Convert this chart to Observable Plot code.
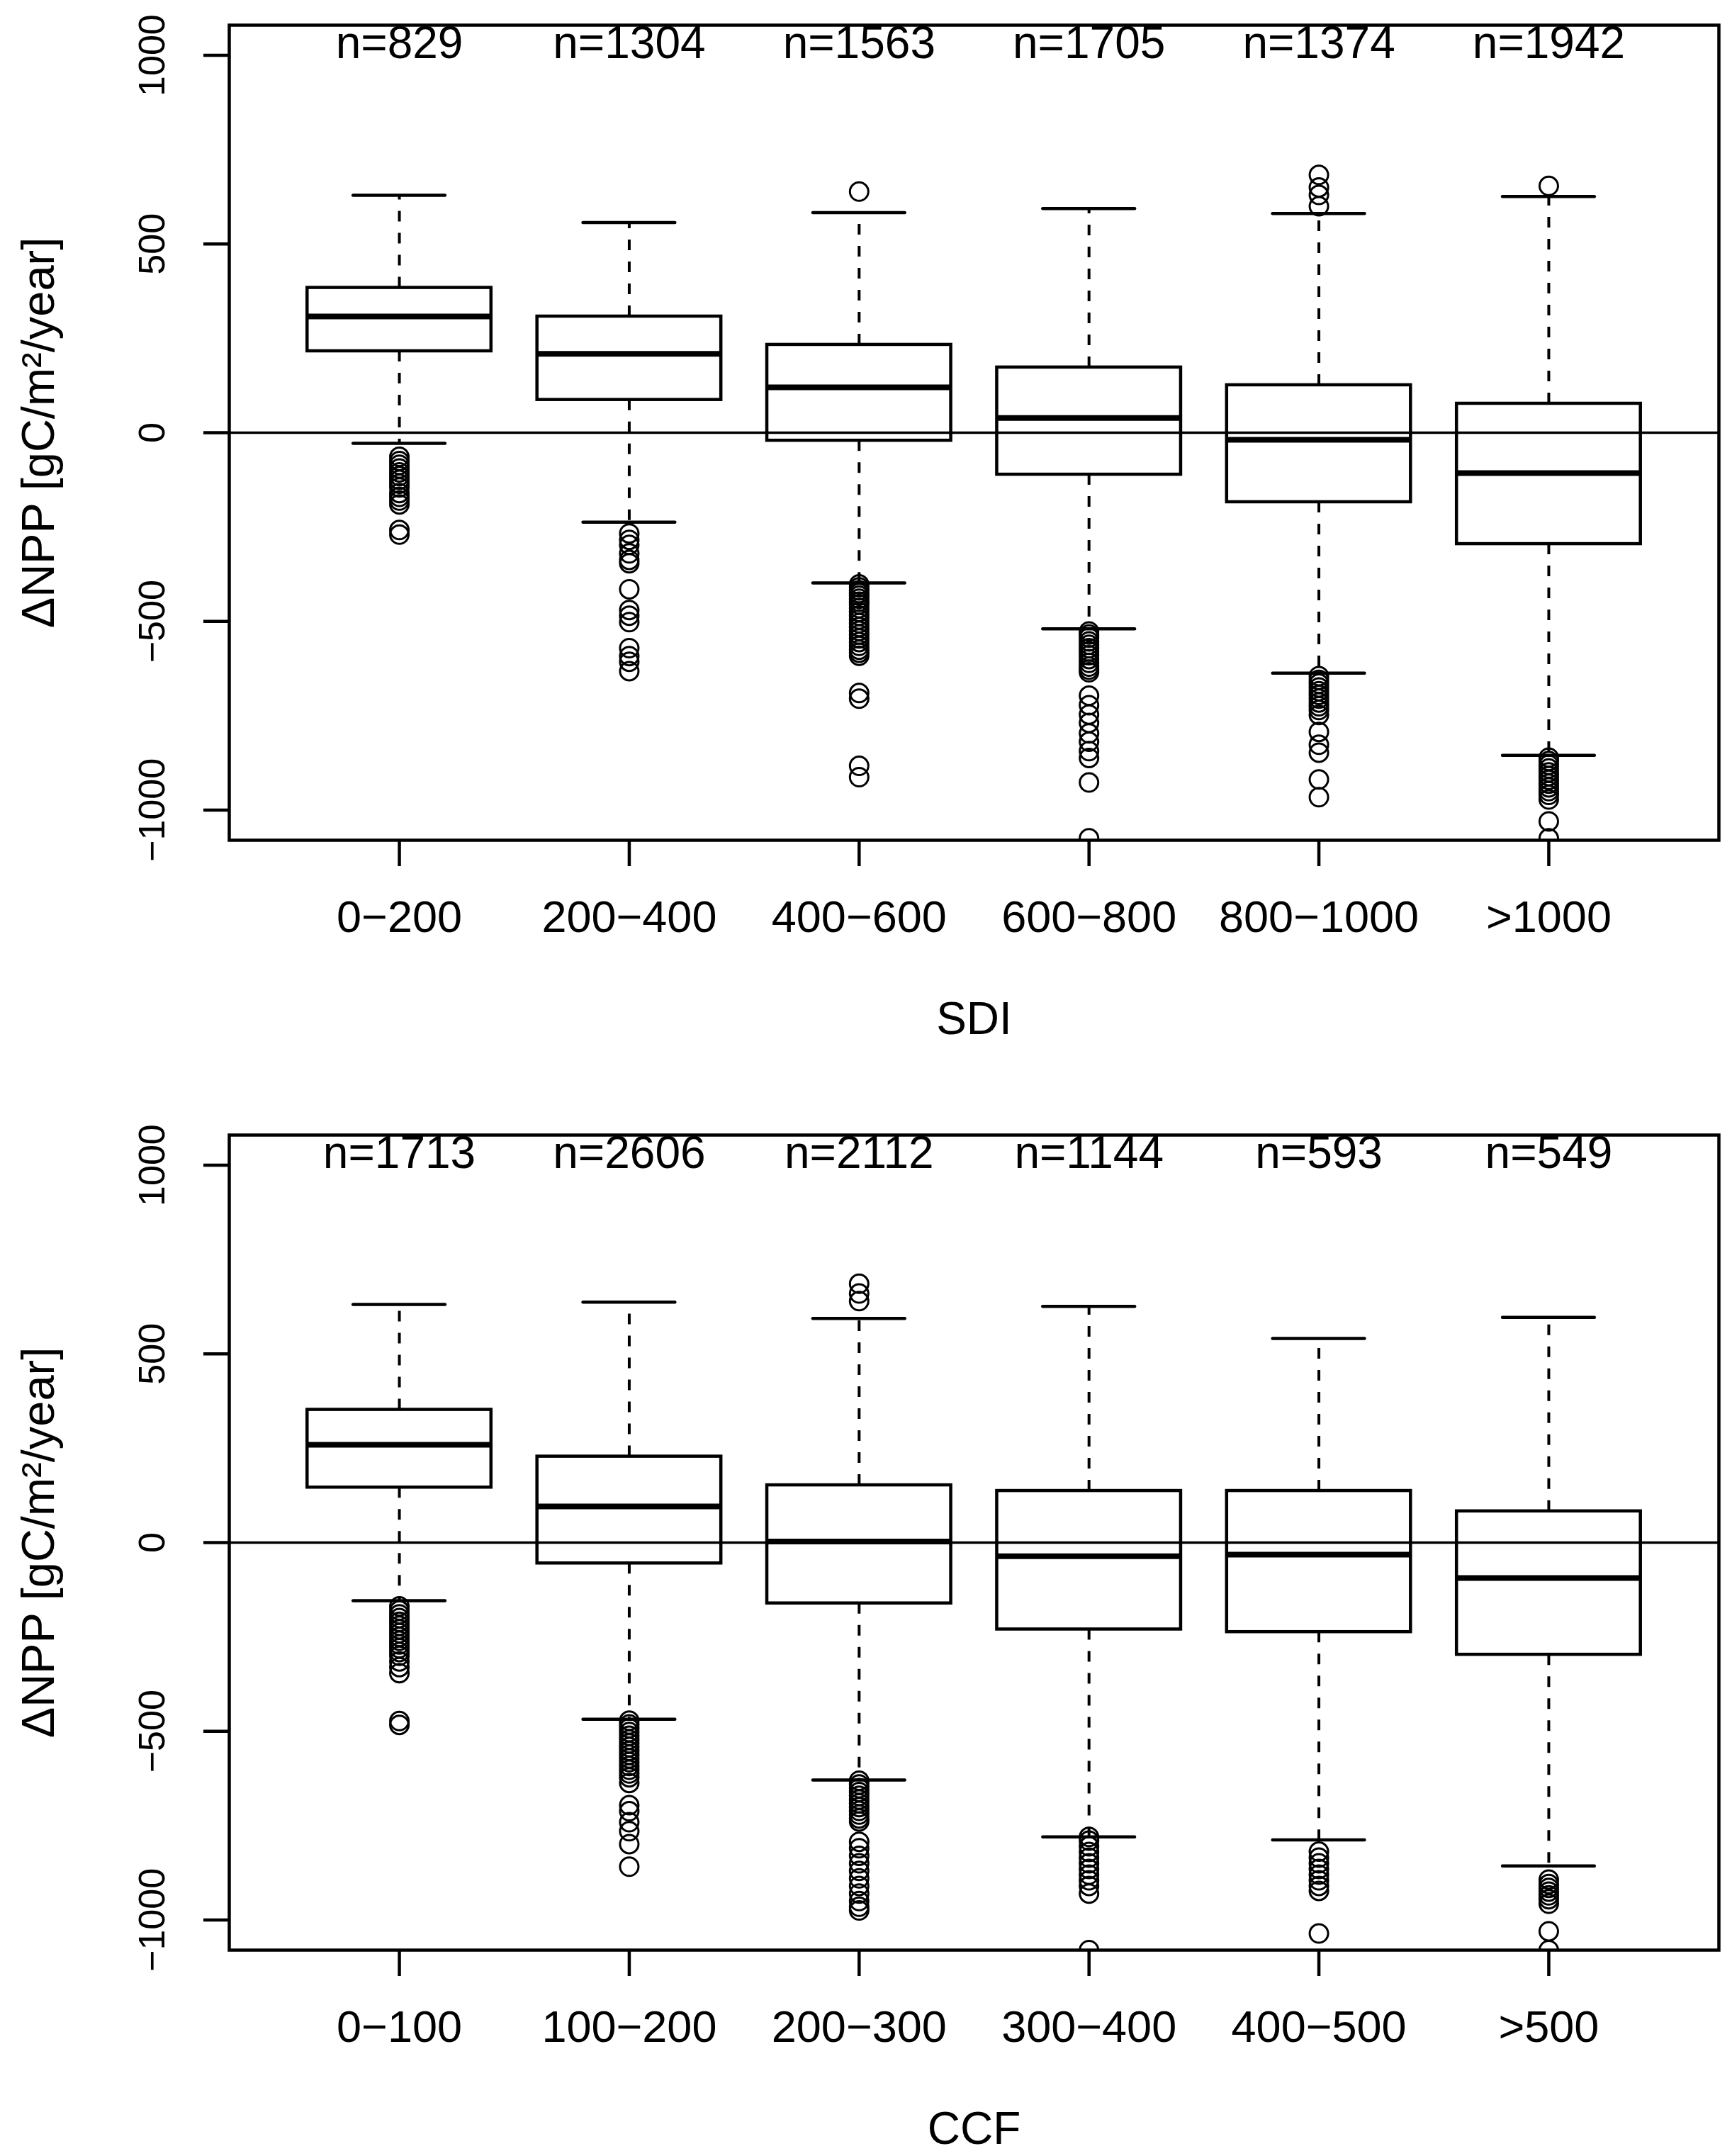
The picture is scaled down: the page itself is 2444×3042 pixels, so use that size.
<!DOCTYPE html>
<html>
<head>
<meta charset="utf-8">
<script src="https://cdn.jsdelivr.net/npm/d3@7"></script>
<script src="https://cdn.jsdelivr.net/npm/@observablehq/plot@0.6"></script>
<style>
  html, body { margin: 0; padding: 0; background: white; }
  #chart { width: 2444px; }
  #chart svg { display: block; }
</style>
</head>
<body>
<div id="chart"></div>
<script>
// ---------- data ----------
const yTicks = [-1000, -500, 0, 500, 1000];
const yTitle = "ΔNPP [gC/m²/year]";

const sdiTitle = "SDI";
const sdiLabels = ["0−200", "200−400", "400−600", "600−800", "800−1000", ">1000"];
const sdiN = [829, 1304, 1563, 1705, 1374, 1942];
const sdiLowerWhisker = [-28, -237, -398, -520, -637, -855];
const sdiQ1 = [216, 87, -21, -111, -184, -295];
const sdiMedian = [308, 209, 120, 39, -19, -107];
const sdiQ3 = [384, 308, 233, 173, 126, 77];
const sdiUpperWhisker = [629, 557, 583, 594, 581, 626];
const sdiOutliers = [
  [-64, -75, -85, -95, -105, -115, -125, -135, -145, -160, -170, -180, -190, -258, -270],
  [-267, -284, -297, -320, -337, -346, -415, -470, -485, -502, -571, -592, -607, -632],
  [639, -402, -410, -418, -425, -432, -440, -448, -455, -465, -475, -485, -495, -505, -515, -525, -535, -545, -555, -565, -575, -583, -591, -690, -705, -883, -913],
  [-527, -535, -543, -553, -562, -571, -580, -590, -600, -610, -620, -628, -635, -697, -722, -747, -769, -797, -819, -844, -862, -927, -1075],
  [683, 650, 630, 600, -645, -655, -665, -675, -685, -695, -705, -715, -725, -735, -748, -793, -827, -848, -919, -966],
  [654, -861, -870, -880, -890, -900, -910, -920, -930, -940, -950, -960, -972, -1030, -1075]
];

const ccfTitle = "CCF";
const ccfLabels = ["0−100", "100−200", "200−300", "300−400", "400−500", ">500"];
const ccfN = [1713, 2606, 2112, 1144, 593, 549];
const ccfLowerWhisker = [-154, -468, -629, -780, -788, -857];
const ccfQ1 = [146, -55, -161, -230, -237, -297];
const ccfMedian = [259, 96, 3, -36, -32, -94];
const ccfQ3 = [352, 228, 152, 137, 137, 83];
const ccfUpperWhisker = [631, 637, 594, 626, 541, 597];
const ccfOutliers = [
  [-169, -180, -190, -200, -210, -220, -230, -240, -250, -260, -270, -280, -290, -300, -315, -330, -346, -473, -483],
  [-472, -482, -492, -502, -512, -522, -532, -542, -552, -562, -572, -582, -592, -602, -612, -622, -637, -696, -712, -741, -765, -799, -859],
  [686, 660, 640, -631, -641, -651, -661, -671, -681, -691, -701, -711, -721, -731, -739, -793, -810, -830, -850, -870, -890, -910, -930, -950, -965, -975],
  [-780, -790, -805, -820, -835, -850, -865, -880, -895, -910, -930, -1080],
  [-819, -835, -850, -865, -880, -895, -910, -923, -1036],
  [-893, -905, -915, -925, -935, -945, -957, -1030, -1080]
];

// ---------- drawing ----------
const FONT = "'Liberation Sans', Arial, Helvetica, sans-serif";
const fmt = v => String(v).replace("-", "−");

function panel({labels, n, lw, q1, med, q3, uw, outliers, title, marginTop, marginBottom}) {
  const stats = labels.map((label, k) => ({
    i: k + 1, label, n: n[k], lw: lw[k], q1: q1[k], med: med[k], q3: q3[k], uw: uw[k]
  }));
  const pts = outliers.flatMap((arr, k) => arr.map(v => ({i: k + 1, v})));
  const halfBox = 0.4, halfCap = 0.2;
  return Plot.plot({
    width: 2444,
    height: 1521,
    marginLeft: 323,
    marginRight: 19,
    marginTop,
    marginBottom,
    style: {fontFamily: FONT, background: "white", color: "black", overflow: "visible"},
    x: {domain: [0.26, 6.74], axis: null},
    y: {domain: [-1080, 1080], axis: null},
    marks: [
      // whiskers (dashed)
      Plot.ruleX(stats, {x: "i", y1: "q3", y2: "uw", stroke: "black", strokeWidth: 4, strokeDasharray: "15,16"}),
      Plot.ruleX(stats, {x: "i", y1: "q1", y2: "lw", stroke: "black", strokeWidth: 4, strokeDasharray: "15,16"}),
      // staples
      Plot.ruleY(stats, {x1: d => d.i - halfCap, x2: d => d.i + halfCap, y: "uw", stroke: "black", strokeWidth: 4.5, strokeLinecap: "round"}),
      Plot.ruleY(stats, {x1: d => d.i - halfCap, x2: d => d.i + halfCap, y: "lw", stroke: "black", strokeWidth: 4.5, strokeLinecap: "round"}),
      // boxes
      Plot.rect(stats, {x1: d => d.i - halfBox, x2: d => d.i + halfBox, y1: "q1", y2: "q3", fill: "white", stroke: "black", strokeWidth: 4.5}),
      // medians
      Plot.ruleY(stats, {x1: d => d.i - halfBox, x2: d => d.i + halfBox, y: "med", stroke: "black", strokeWidth: 8}),
      // outliers
      Plot.dot(pts, {x: "i", y: "v", r: 13, fill: "none", stroke: "black", strokeWidth: 3, clip: "frame"}),
      // zero line
      Plot.ruleY([0], {stroke: "black", strokeWidth: 3.5}),
      // frame
      Plot.frame({stroke: "black", strokeWidth: 4.5}),
      // axes (ticks only)
      Plot.axisY({ticks: yTicks, tickSize: 36, tickFormat: () => "", strokeWidth: 4.5, label: null}),
      Plot.axisX({ticks: stats.map(d => d.i), tickSize: 37, tickFormat: () => "", strokeWidth: 4.5, label: null}),
      // y tick labels (rotated)
      Plot.text(yTicks, {y: d => d, text: d => fmt(d), frameAnchor: "left", dx: -108, rotate: -90,
        fontSize: 52, textAnchor: "middle", lineAnchor: "middle", fill: "black"}),
      // x tick labels
      Plot.text(stats, {x: "i", text: "label", frameAnchor: "bottom", dy: 109, fontSize: 63,
        textAnchor: "middle", lineAnchor: "middle", fill: "black"}),
      // n labels
      Plot.text(stats, {x: "i", text: d => "n=" + d.n, frameAnchor: "top", dy: 26, fontSize: 64,
        textAnchor: "middle", lineAnchor: "middle", fill: "black"}),
      // axis titles
      Plot.text([title], {text: d => d, frameAnchor: "bottom", dy: 253, fontSize: 64,
        textAnchor: "middle", lineAnchor: "middle", fill: "black"}),
      Plot.text([yTitle], {text: d => d, frameAnchor: "left", dx: -268, rotate: -90, fontSize: 65,
        textAnchor: "middle", lineAnchor: "middle", fill: "black"})
    ]
  });
}

const chart = document.getElementById("chart");
chart.append(panel({
  labels: sdiLabels, n: sdiN, lw: sdiLowerWhisker, q1: sdiQ1, med: sdiMedian, q3: sdiQ3,
  uw: sdiUpperWhisker, outliers: sdiOutliers, title: sdiTitle, marginTop: 35, marginBottom: 336
}));
chart.append(panel({
  labels: ccfLabels, n: ccfN, lw: ccfLowerWhisker, q1: ccfQ1, med: ccfMedian, q3: ccfQ3,
  uw: ccfUpperWhisker, outliers: ccfOutliers, title: ccfTitle, marginTop: 80, marginBottom: 291
}));
</script>
</body>
</html>
